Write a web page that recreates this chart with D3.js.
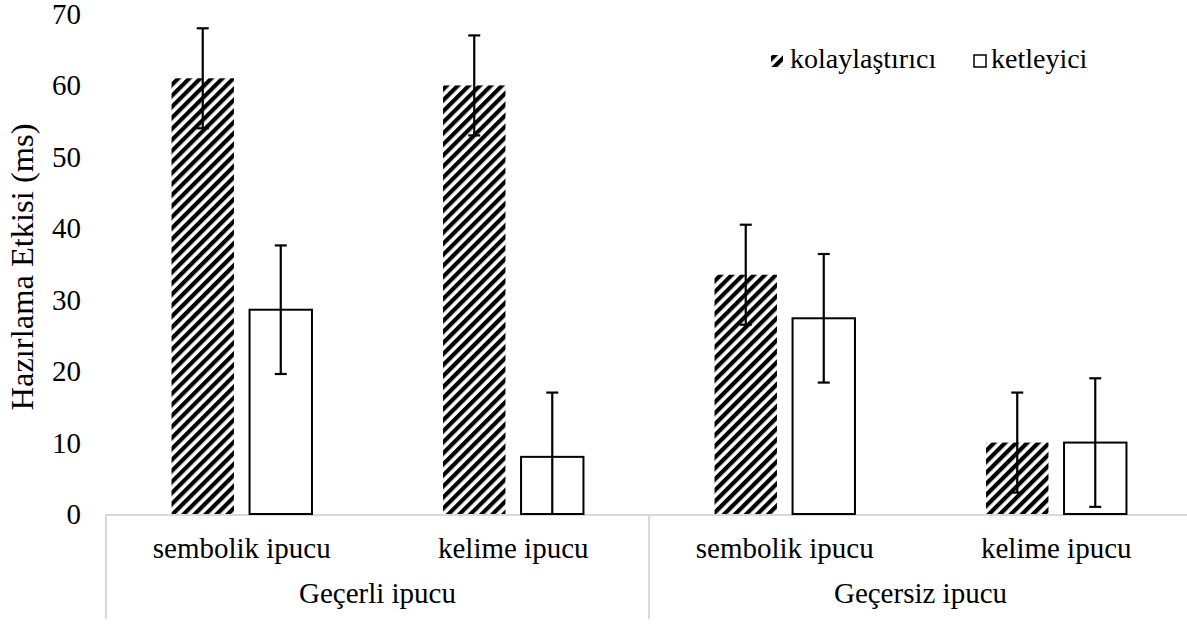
<!DOCTYPE html>
<html><head><meta charset="utf-8">
<script src="https://cdn.jsdelivr.net/npm/d3@7"></script>
<style>
html,body{margin:0;padding:0;background:#fff;overflow:hidden}
svg text{font-family:"Liberation Serif","Times New Roman",serif;fill:#000}
</style></head>
<body>
<svg id="c" width="1187" height="624"></svg>
<script>
const groups = ["Geçerli ipucu", "Geçersiz ipucu"];
const categories = ["sembolik ipucu", "kelime ipucu", "sembolik ipucu", "kelime ipucu"];
const categoryGroup = [0, 0, 1, 1];
const series = ["kolaylaştırıcı", "ketleyici"];
const kolaylastirici = [61, 60, 33.5, 10];
const kolaylastiriciErr = [7, 7, 7, 7];
const ketleyici = [28.6, 8, 27.4, 10];
const ketleyiciErr = [9, 9, 9, 9];
const yTicks = [0, 10, 20, 30, 40, 50, 60, 70];

const svg = d3.select("#c");
const pLeft = 106, pRight = 1192, pTop = 14, pBottom = 514;
const fs = 29;
const serif = "'Liberation Serif','Times New Roman',serif";

const defs = svg.append("defs");
const pat = defs.append("pattern").attr("id","hatch").attr("patternUnits","userSpaceOnUse")
  .attr("width",7.8).attr("height",7.8).attr("patternTransform","rotate(45)");
pat.append("rect").attr("width",7.8).attr("height",7.8).attr("fill","#fff");
pat.append("rect").attr("x",0).attr("y",0).attr("width",4.2).attr("height",7.8).attr("fill","#000");
defs.append("clipPath").attr("id","plot").append("rect")
  .attr("x",pLeft).attr("y",0).attr("width",pRight-pLeft).attr("height",pBottom);

const y = d3.scaleLinear().domain([0,70]).range([pBottom, pTop]);
const idx = categories.map((d,i)=>i);
const x0 = d3.scaleBand().domain(idx).range([pLeft,pRight]).paddingInner(0).paddingOuter(0);
const x1 = d3.scaleBand().domain(series).range([0,x0.bandwidth()]).paddingInner(0.2).paddingOuter(0.84);

// y tick labels
svg.append("g").selectAll("text").data(yTicks).join("text")
  .attr("x",81).attr("y",d=>y(d)+10).attr("text-anchor","end")
  .attr("font-family",serif).style("font-size",fs+"px").text(d=>d);

// y axis title
svg.append("text").attr("transform",`translate(33,${(pTop+pBottom)/2+3}) rotate(-90)`)
  .attr("text-anchor","middle").attr("font-family",serif).style("font-size","32.5px").text("Hazırlama Etkisi (ms)");

// category axis lines
const axis = svg.append("g").attr("stroke","#d9d9d9").attr("stroke-width",2);
axis.append("line").attr("x1",pLeft).attr("x2",pRight).attr("y1",pBottom+1).attr("y2",pBottom+1);
const divs = [pLeft, x0(2), pRight];
axis.selectAll(".dv").data(divs).join("line").attr("x1",d=>d).attr("x2",d=>d)
  .attr("y1",pBottom).attr("y2",619);

// category labels
svg.append("g").selectAll("text").data(idx).join("text")
  .attr("x",i=>x0(i)+x0.bandwidth()/2).attr("y",558).attr("text-anchor","middle")
  .attr("font-family",serif).style("font-size",fs+"px").text(i=>categories[i]);
svg.append("g").selectAll("text").data(groups).join("text")
  .attr("x",(g,gi)=>{const cs=idx.filter(i=>categoryGroup[i]===gi);return (x0(cs[0])+x0(cs[cs.length-1])+x0.bandwidth())/2;})
  .attr("y",603).attr("text-anchor","middle").attr("font-family",serif).style("font-size",fs+"px").text(d=>d);

// bars
const data = [];
idx.forEach(i=>{
  data.push({i,s:series[0],v:kolaylastirici[i],e:kolaylastiriciErr[i]});
  data.push({i,s:series[1],v:ketleyici[i],e:ketleyiciErr[i]});
});
const bars = svg.append("g");
bars.selectAll("rect").data(data).join("rect")
  .attr("x",d=>x0(d.i)+x1(d.s)).attr("width",x1.bandwidth())
  .attr("y",d=>y(d.v)).attr("height",d=>y(0)-y(d.v))
  .attr("fill",d=>d.s===series[0]?"url(#hatch)":"#fff")
  .attr("stroke",d=>d.s===series[0]?"none":"#000")
  .attr("stroke-width",2);

// error bars
const eb = svg.append("g").attr("clip-path","url(#plot)").attr("stroke","#000").attr("stroke-width",2.2);
data.forEach(d=>{
  const cx = x0(d.i)+x1(d.s)+x1.bandwidth()/2;
  eb.append("line").attr("x1",cx).attr("x2",cx).attr("y1",y(d.v+d.e)).attr("y2",y(d.v-d.e));
  eb.append("line").attr("x1",cx-6).attr("x2",cx+6).attr("y1",y(d.v+d.e)).attr("y2",y(d.v+d.e));
  if (d.v-d.e>=0) eb.append("line").attr("x1",cx-6).attr("x2",cx+6).attr("y1",y(d.v-d.e)).attr("y2",y(d.v-d.e));
});

// legend
const lg = svg.append("g");
lg.append("rect").attr("x",771).attr("y",55).attr("width",12).attr("height",12).attr("fill","url(#hatch)");
lg.append("text").attr("x",790).attr("y",68).attr("font-family",serif).style("font-size","28px").text(series[0]);
lg.append("rect").attr("x",974).attr("y",55).attr("width",12).attr("height",12).attr("fill","#fff").attr("stroke","#000").attr("stroke-width",1.5);
lg.append("text").attr("x",991).attr("y",68).attr("font-family",serif).style("font-size","28px").text(series[1]);
</script>
</body></html>
